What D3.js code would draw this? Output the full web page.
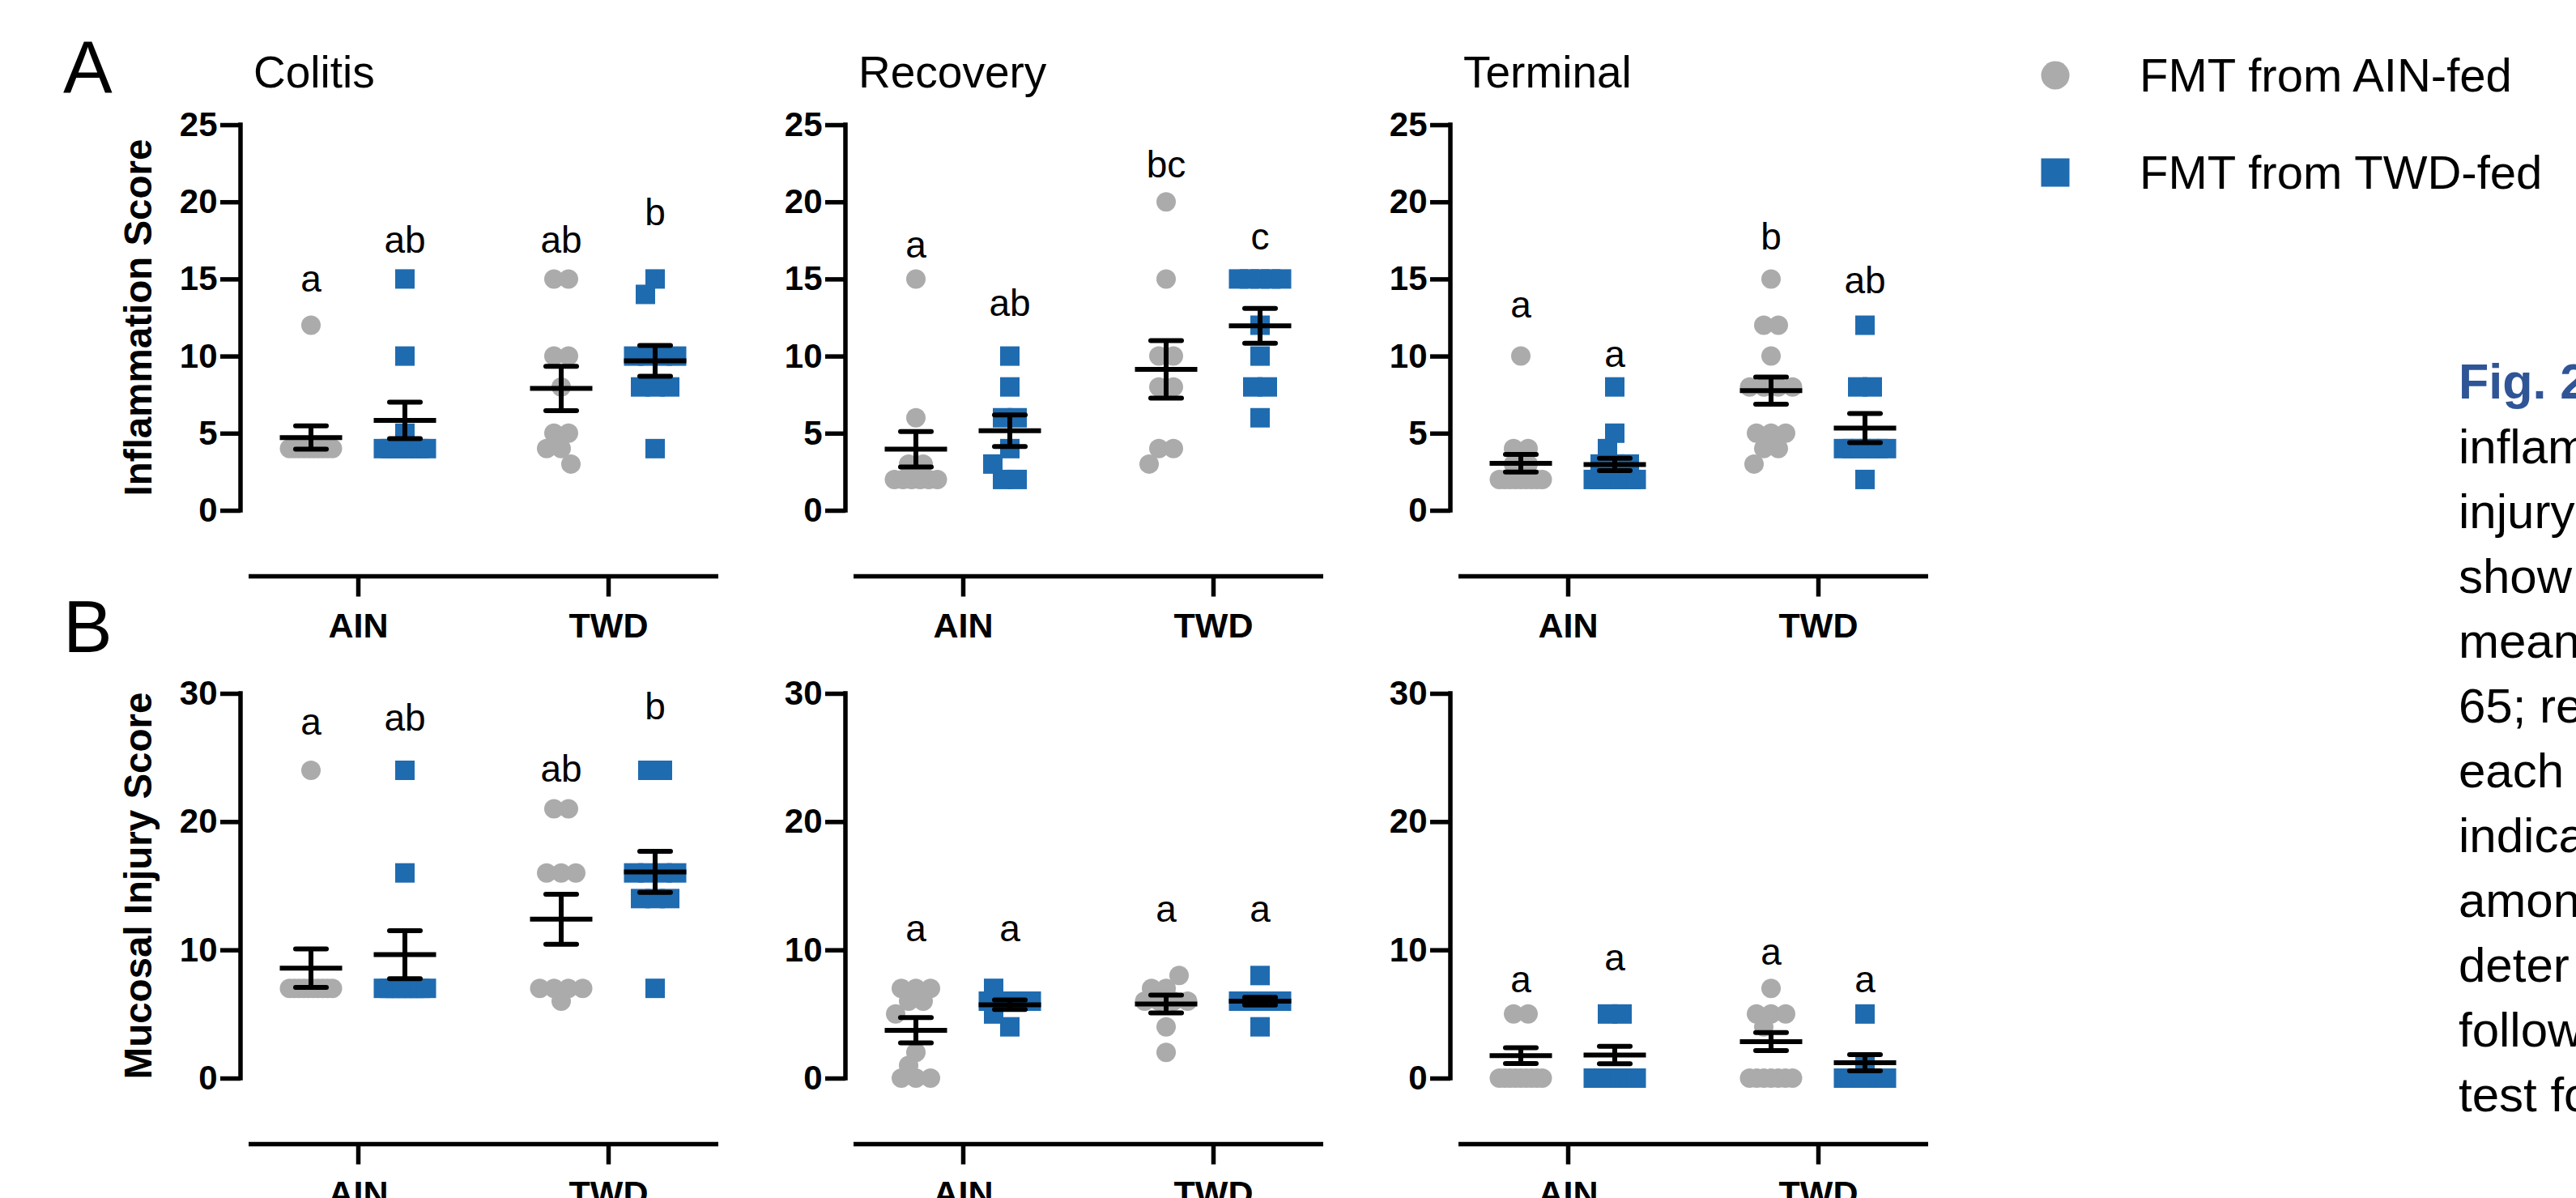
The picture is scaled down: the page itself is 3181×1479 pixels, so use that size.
<!DOCTYPE html>
<html><head><meta charset="utf-8">
<script src="https://cdn.jsdelivr.net/npm/d3@7"></script>
<style>html,body{margin:0;padding:0;background:#fff;overflow:hidden}</style>
</head><body>
<svg id="chart" width="3181" height="1479"></svg>
<script>
// ---------- categories / labels ----------
const phases = ["Colitis", "Recovery", "Terminal"];
const diets = ["AIN", "TWD"];
const seriesNames = ["FMT from AIN-fed", "FMT from TWD-fed"];
const panelLabels = ["A", "B"];
const yTitles = ["Inflammation Score", "Mucosal Injury Score"];
const inflTicks = [0, 5, 10, 15, 20, 25];
const injTicks = [0, 10, 20, 30];
const captionTitle = "Fig. 2";
const captionLines = ["inflam", "injury", "show", "mean", "65; re", "each", "indica", "amon", "deter", "follow", "test fo"];

// group order in every panel: [AIN diet / AIN-fed FMT, AIN / TWD-fed, TWD / AIN-fed, TWD / TWD-fed]
// ---------- Inflammation score ----------
const inflColitisPts = [
  [12, 4, 4, 4, 4, 4, 4, 4, 4, 4, 4],
  [15, 10, 5, 4, 4, 4, 4, 4, 4, 4],
  [15, 15, 10, 10, 8, 5, 5, 4, 4, 3],
  [15, 14, 10, 10, 10, 10, 8, 8, 8, 4]
];
const inflColitisMean = [4.72, 5.83, 7.9, 9.69];
const inflColitisSem = [0.75, 1.18, 1.44, 1.0];
const inflColitisLetters = ["a", "ab", "ab", "b"];
const inflColitisLetterY = [14.2, 16.7, 16.7, 18.5];

const inflRecoveryPts = [
  [15, 6, 3, 3, 2, 2, 2, 2, 2, 2],
  [10, 8, 6, 6, 4, 3, 2, 2],
  [20, 15, 10, 10, 8, 8, 4, 4, 3],
  [15, 15, 15, 15, 15, 12, 10, 8, 8, 6]
];
const inflRecoveryMean = [3.96, 5.16, 9.14, 11.96];
const inflRecoverySem = [1.15, 1.02, 1.86, 1.13];
const inflRecoveryLetters = ["a", "ab", "bc", "c"];
const inflRecoveryLetterY = [16.4, 12.6, 21.6, 16.9];

const inflTerminalPts = [
  [10, 4, 4, 3, 3, 2, 2, 2, 2, 2, 2, 2, 2, 2],
  [8, 5, 4, 3, 3, 3, 2, 2, 2, 2, 2, 2, 2, 2, 2],
  [15, 12, 12, 10, 8, 8, 8, 8, 5, 5, 5, 4, 4, 3],
  [12, 8, 8, 4, 4, 4, 4, 4, 4, 2]
];
const inflTerminalMean = [3.05, 2.97, 7.76, 5.33];
const inflTerminalSem = [0.57, 0.4, 0.88, 0.95];
const inflTerminalLetters = ["a", "a", "b", "ab"];
const inflTerminalLetterY = [12.5, 9.3, 16.9, 14.1];

// ---------- Mucosal injury score ----------
const injColitisPts = [
  [24, 7, 7, 7, 7, 7, 7, 7, 7, 7, 7],
  [24, 16, 7, 7, 7, 7, 7, 7, 7, 7],
  [21, 21, 16, 16, 16, 7, 7, 7, 7, 6],
  [24, 24, 16, 16, 16, 16, 14, 14, 14, 7]
];
const injColitisMean = [8.57, 9.63, 12.39, 16.08];
const injColitisSem = [1.5, 1.87, 1.95, 1.6];
const injColitisLetters = ["a", "ab", "ab", "b"];
const injColitisLetterY = [26.8, 27.1, 23.1, 28.0];

const injRecoveryPts = [
  [7, 7, 7, 6, 6, 5, 2, 1, 0, 0, 0],
  [7, 6, 6, 6, 6, 6, 5, 4],
  [8, 7, 7, 6, 6, 6, 6, 4, 2],
  [8, 6, 6, 6, 6, 6, 6, 6, 4]
];
const injRecoveryMean = [3.73, 5.72, 5.78, 6.0];
const injRecoverySem = [0.99, 0.37, 0.69, 0.3];
const injRecoveryLetters = ["a", "a", "a", "a"];
const injRecoveryLetterY = [10.7, 10.7, 12.2, 12.2];

const injTerminalPts = [
  [5, 5, 0, 0, 0, 0, 0, 0, 0, 0, 0],
  [5, 5, 0, 0, 0, 0, 0, 0, 0, 0, 0],
  [7, 5, 5, 5, 4, 0, 0, 0, 0, 0, 0, 0],
  [5, 1, 0, 0, 0, 0, 0, 0, 0, 0]
];
const injTerminalMean = [1.75, 1.8, 2.85, 1.2];
const injTerminalSem = [0.62, 0.68, 0.7, 0.63];
const injTerminalLetters = ["a", "a", "a", "a"];
const injTerminalLetterY = [6.7, 8.4, 8.85, 6.7];

// ---------- assemble tables for drawing ----------
const rows = [
  { ticks: inflTicks,
    pts: [inflColitisPts, inflRecoveryPts, inflTerminalPts],
    mean: [inflColitisMean, inflRecoveryMean, inflTerminalMean],
    sem: [inflColitisSem, inflRecoverySem, inflTerminalSem],
    letters: [inflColitisLetters, inflRecoveryLetters, inflTerminalLetters],
    letterY: [inflColitisLetterY, inflRecoveryLetterY, inflTerminalLetterY] },
  { ticks: injTicks,
    pts: [injColitisPts, injRecoveryPts, injTerminalPts],
    mean: [injColitisMean, injRecoveryMean, injTerminalMean],
    sem: [injColitisSem, injRecoverySem, injTerminalSem],
    letters: [injColitisLetters, injRecoveryLetters, injTerminalLetters],
    letterY: [injColitisLetterY, injRecoveryLetterY, injTerminalLetterY] }
];

// ---------- layout / style ----------
const FONT = "'Liberation Sans', Arial, Helvetica, sans-serif";
const GRAY = "#ababab", BLUE = "#1f6bb0";
const colX0 = 297, colStep = 747;          // y-axis x of first column, column spacing
const rowBottom = [630, 1331], rowTop = [154, 856];
const panelLabelY = [114, 805];
const axisW = 5.5, barW = 6;
const MS = 24;                               // marker size
const svg = d3.select("#chart");
svg.append("rect").attr("width", 3181).attr("height", 1479).attr("fill", "#fff");

function swarmLayout(vals, y, sp, cap, dmin) {
  const counts = d3.rollups(vals, v => v.length, d => d);
  counts.sort((a, b) => b[1] - a[1] || b[0] - a[0]);
  const placed = [];
  counts.forEach(([v, k]) => {
    const py = y(v);
    let span = (k - 1) * sp; if (span > 2 * cap) span = 2 * cap;
    const offs = k === 1 ? [0] : d3.range(k).map(i => -span / 2 + i * span / (k - 1));
    const lim = Math.max(0, Math.floor(cap - span / 2));
    let best = 0, bestD = -1;
    for (let t = 0; t <= 2 * lim; t++) {
      const s = (t % 2 === 0 ? 1 : -1) * Math.ceil(t / 2);
      let md = Infinity;
      offs.forEach(o => placed.forEach(p => {
        const d = Math.hypot(o + s - p.dx, py - p.py); if (d < md) md = d;
      }));
      if (md >= dmin) { best = s; bestD = md; break; }
      if (md > bestD + 0.5) { bestD = md; best = s; }
    }
    offs.forEach(o => placed.push({ v, dx: o + best, py }));
  });
  return placed;
}

rows.forEach((row, r) => {
  const yMax = row.ticks[row.ticks.length - 1];
  const y = d3.scaleLinear().domain([0, yMax]).range([rowBottom[r], rowTop[r]]);
  const xAxisY = rowBottom[r] + 81.5;

  // panel letter
  svg.append("text").attr("x", 78).attr("y", panelLabelY[r])
    .attr("font-family", FONT).attr("font-size", 91).text(panelLabels[r]);
  // y title
  svg.append("text").attr("transform", `translate(187,${(rowBottom[r] + rowTop[r]) / 2}) rotate(-90)`)
    .attr("text-anchor", "middle").attr("font-family", FONT).attr("font-weight", "bold")
    .attr("font-size", 47.5).text(yTitles[r]);

  phases.forEach((ph, c) => {
    const ax = colX0 + c * colStep;
    const g = svg.append("g");
    if (r === 0) {
      g.append("text").attr("x", ax + 16).attr("y", 108).attr("font-family", FONT)
        .attr("font-size", 55).text(ph);
    }
    // y axis
    const yAxis = g.append("g").attr("transform", `translate(${ax},0)`)
      .call(d3.axisLeft(y).tickValues(row.ticks).tickSize(25).tickSizeOuter(0).tickPadding(3.5));
    yAxis.select(".domain").remove();
    yAxis.selectAll("line").attr("stroke", "#000").attr("stroke-width", axisW);
    yAxis.selectAll("text").attr("font-family", FONT).attr("font-weight", "bold")
      .attr("font-size", 42).attr("fill", "#000");
    g.append("line").attr("x1", ax).attr("x2", ax).attr("y1", y(0)).attr("y2", y(yMax))
      .attr("stroke", "#000").attr("stroke-width", axisW).attr("stroke-linecap", "square");

    // x axis
    const xDiet = d3.scalePoint().domain(diets).range([ax + 145, ax + 454]);
    const xSer = d3.scalePoint().domain([0, 1]).range([-58, 58]);
    const xAxis = g.append("g").attr("transform", `translate(0,${xAxisY})`)
      .call(d3.axisBottom(xDiet).tickSize(25).tickSizeOuter(0));
    xAxis.select(".domain").remove();
    xAxis.selectAll("line").attr("stroke", "#000").attr("stroke-width", axisW);
    xAxis.selectAll("text").attr("dy", null).attr("y", 75).attr("font-family", FONT)
      .attr("font-weight", "bold").attr("font-size", 43).attr("fill", "#000");
    g.append("line").attr("x1", ax + 10).attr("x2", ax + 590).attr("y1", xAxisY).attr("y2", xAxisY)
      .attr("stroke", "#000").attr("stroke-width", axisW);

    // groups
    row.pts[c].forEach((vals, gi) => {
      const cx = xDiet(diets[Math.floor(gi / 2)]) + xSer(gi % 2);
      const isCircle = gi % 2 === 0;
      const lay = swarmLayout(vals, y, 18, 26.5, 22);
      if (isCircle) {
        g.selectAll(null).data(lay).enter().append("circle")
          .attr("cx", d => cx + d.dx).attr("cy", d => y(d.v)).attr("r", MS / 2).attr("fill", GRAY);
      } else {
        g.selectAll(null).data(lay).enter().append("rect")
          .attr("x", d => cx + d.dx - MS / 2).attr("y", d => y(d.v) - MS / 2)
          .attr("width", MS).attr("height", MS).attr("fill", BLUE);
      }
      const m = row.mean[c][gi], s = row.sem[c][gi];
      const eb = g.append("g").attr("stroke", "#000").attr("stroke-width", barW);
      eb.append("line").attr("x1", cx).attr("x2", cx).attr("y1", y(m - s)).attr("y2", y(m + s));
      [m - s, m + s].forEach(v => eb.append("line").attr("x1", cx - 19).attr("x2", cx + 19)
        .attr("y1", y(v)).attr("y2", y(v)).attr("stroke-linecap", "round"));
      eb.append("line").attr("x1", cx - 38.5).attr("x2", cx + 38.5).attr("y1", y(m)).attr("y2", y(m));
      // significance letter
      g.append("text").attr("x", cx).attr("y", y(row.letterY[c][gi])).attr("text-anchor", "middle")
        .attr("font-family", FONT).attr("font-size", 46).text(row.letters[c][gi]);
    });
  });
});

// legend
const leg = svg.append("g");
seriesNames.forEach((name, i) => {
  const ly = i === 0 ? 93 : 213;
  if (i === 0) leg.append("circle").attr("cx", 2538).attr("cy", ly).attr("r", 17.5).attr("fill", GRAY);
  else leg.append("rect").attr("x", 2538 - 17.5).attr("y", ly - 17.5).attr("width", 35).attr("height", 35).attr("fill", BLUE);
  leg.append("text").attr("x", 2642).attr("y", ly + 20).attr("font-family", FONT)
    .attr("font-size", 58).text(name);
});

// caption (cut off at the right edge, as in the source figure)
svg.append("text").attr("x", 3036).attr("y", 492).attr("font-family", FONT).attr("font-weight", "bold")
  .attr("font-size", 61).attr("fill", "#2f5597").text(captionTitle);
captionLines.forEach((t, i) => {
  svg.append("text").attr("x", 3036).attr("y", 492 + 80 * (i + 1)).attr("font-family", FONT)
    .attr("font-size", 60).attr("fill", "#000").text(t);
});
</script>
</body></html>
